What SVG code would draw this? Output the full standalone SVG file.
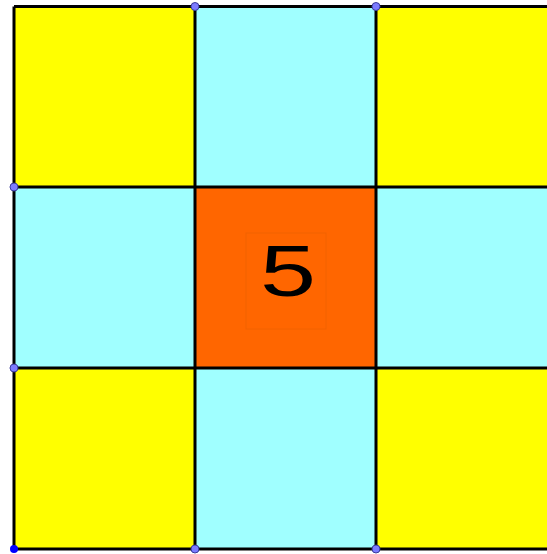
<svg xmlns="http://www.w3.org/2000/svg" width="547" height="554" viewBox="0 0 547 554">
<style>
.y{fill:#ffff00}
.c{fill:#a0ffff}
.o{fill:#ff6600}
.ln{stroke:#000;stroke-width:3;fill:none}
.pt{fill:#7b7bff;stroke:#3a3a9a;stroke-width:1}
</style>
<rect width="547" height="554" fill="#fff"/>
<g id="cells">
<rect id="c1" class="y" x="14" y="6.5" width="181" height="181"/>
<rect id="c2" class="c" x="195" y="6.5" width="181" height="181"/>
<rect id="c3" class="y" x="376" y="6.5" width="181" height="181"/>
<rect id="c4" class="c" x="14" y="187" width="181" height="181"/>
<rect id="c5" class="o" x="195" y="187" width="181" height="181"/>
<rect id="c6" class="c" x="376" y="187" width="181" height="181"/>
<rect id="c7" class="y" x="14" y="368" width="181" height="181"/>
<rect id="c8" class="c" x="195" y="368" width="181" height="181"/>
<rect id="c9" class="y" x="376" y="368" width="181" height="181"/>
</g>
<g id="label">
<rect x="246" y="233" width="80" height="96" fill="none" stroke="#f26200" stroke-width="1"/>
<text transform="translate(288 296) scale(1.4 1)" x="0" y="0" font-family="Liberation Sans, Arial, sans-serif" font-size="72" text-anchor="middle" fill="#000">5</text>
</g>
<g id="connectors">
<path class="ln" d="M14 6.5H560M14 187H560M14 368H560M14 549H560M14 6.5V549M195 6.5V549M376 6.5V549"/>
</g>
<g id="points">
<circle class="pt" cx="195" cy="6.5" r="4"/>
<circle class="pt" cx="376" cy="6.5" r="4"/>
<circle class="pt" cx="14" cy="187" r="4"/>
<circle class="pt" cx="14" cy="368" r="4"/>
<circle cx="14" cy="549" r="4" fill="#0000ff"/>
<circle class="pt" cx="195" cy="549" r="4"/>
<circle class="pt" cx="376" cy="549" r="4"/>
</g>
</svg>
